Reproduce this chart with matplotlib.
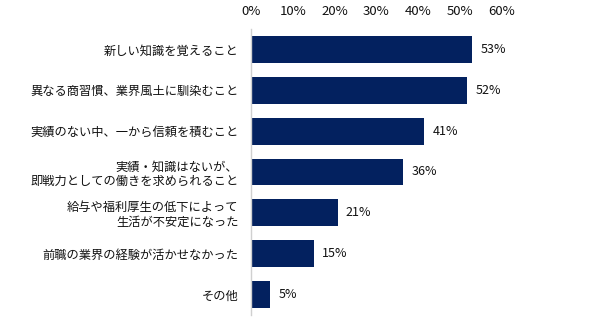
import matplotlib.pyplot as plt
from matplotlib.ticker import FuncFormatter

plt.rcParams["font.family"] = ["Noto Sans CJK JP", "DejaVu Sans"]

categories = [
    "新しい知識を覚えること",
    "異なる商習慣、業界風土に馴染むこと",
    "実績のない中、一から信頼を積むこと",
    "実績・知識はないが、\n即戦力としての働きを求められること",
    "給与や福利厚生の低下によって\n生活が不安定になった",
    "前職の業界の経験が活かせなかった",
    "その他",
]
values = [52.9, 51.7, 41.4, 36.3, 20.7, 15.0, 4.6]
x_ticks = [0, 10, 20, 30, 40, 50, 60]

BAR_COLOR = "#03215f"
TEXT_COLOR = "#111111"

fig = plt.figure(figsize=(6.01, 3.25), dpi=100)
ax = fig.add_axes([0.4176, 0.0308, 0.4177, 0.88])

y = range(len(categories))
ax.barh(y, values, height=0.66, color=BAR_COLOR)
for yi, v in zip(y, values):
    ax.annotate(f"{v:.0f}%", (v, yi), xytext=(6, 0), textcoords="offset points",
                va="center", ha="left", fontsize=9, color=TEXT_COLOR)

ax.set_xlim(0, 60)
ax.set_ylim(len(categories) - 0.5, -0.5)
ax.set_xticks(x_ticks)
ax.xaxis.set_major_formatter(FuncFormatter(lambda v, _: f"{v:.0f}%"))
ax.xaxis.tick_top()
ax.tick_params(axis="x", length=0, pad=8, labelsize=9.5, labelcolor=TEXT_COLOR)
ax.set_yticks(list(y))
ax.set_yticklabels(categories, fontsize=8.8, color=TEXT_COLOR, linespacing=1.1)
ax.tick_params(axis="y", length=0, pad=9)

for side in ("top", "right", "bottom"):
    ax.spines[side].set_visible(False)
ax.spines["left"].set_color("#d0d0d0")
ax.spines["left"].set_linewidth(1.0)

fig.savefig("out.png", dpi=100)
